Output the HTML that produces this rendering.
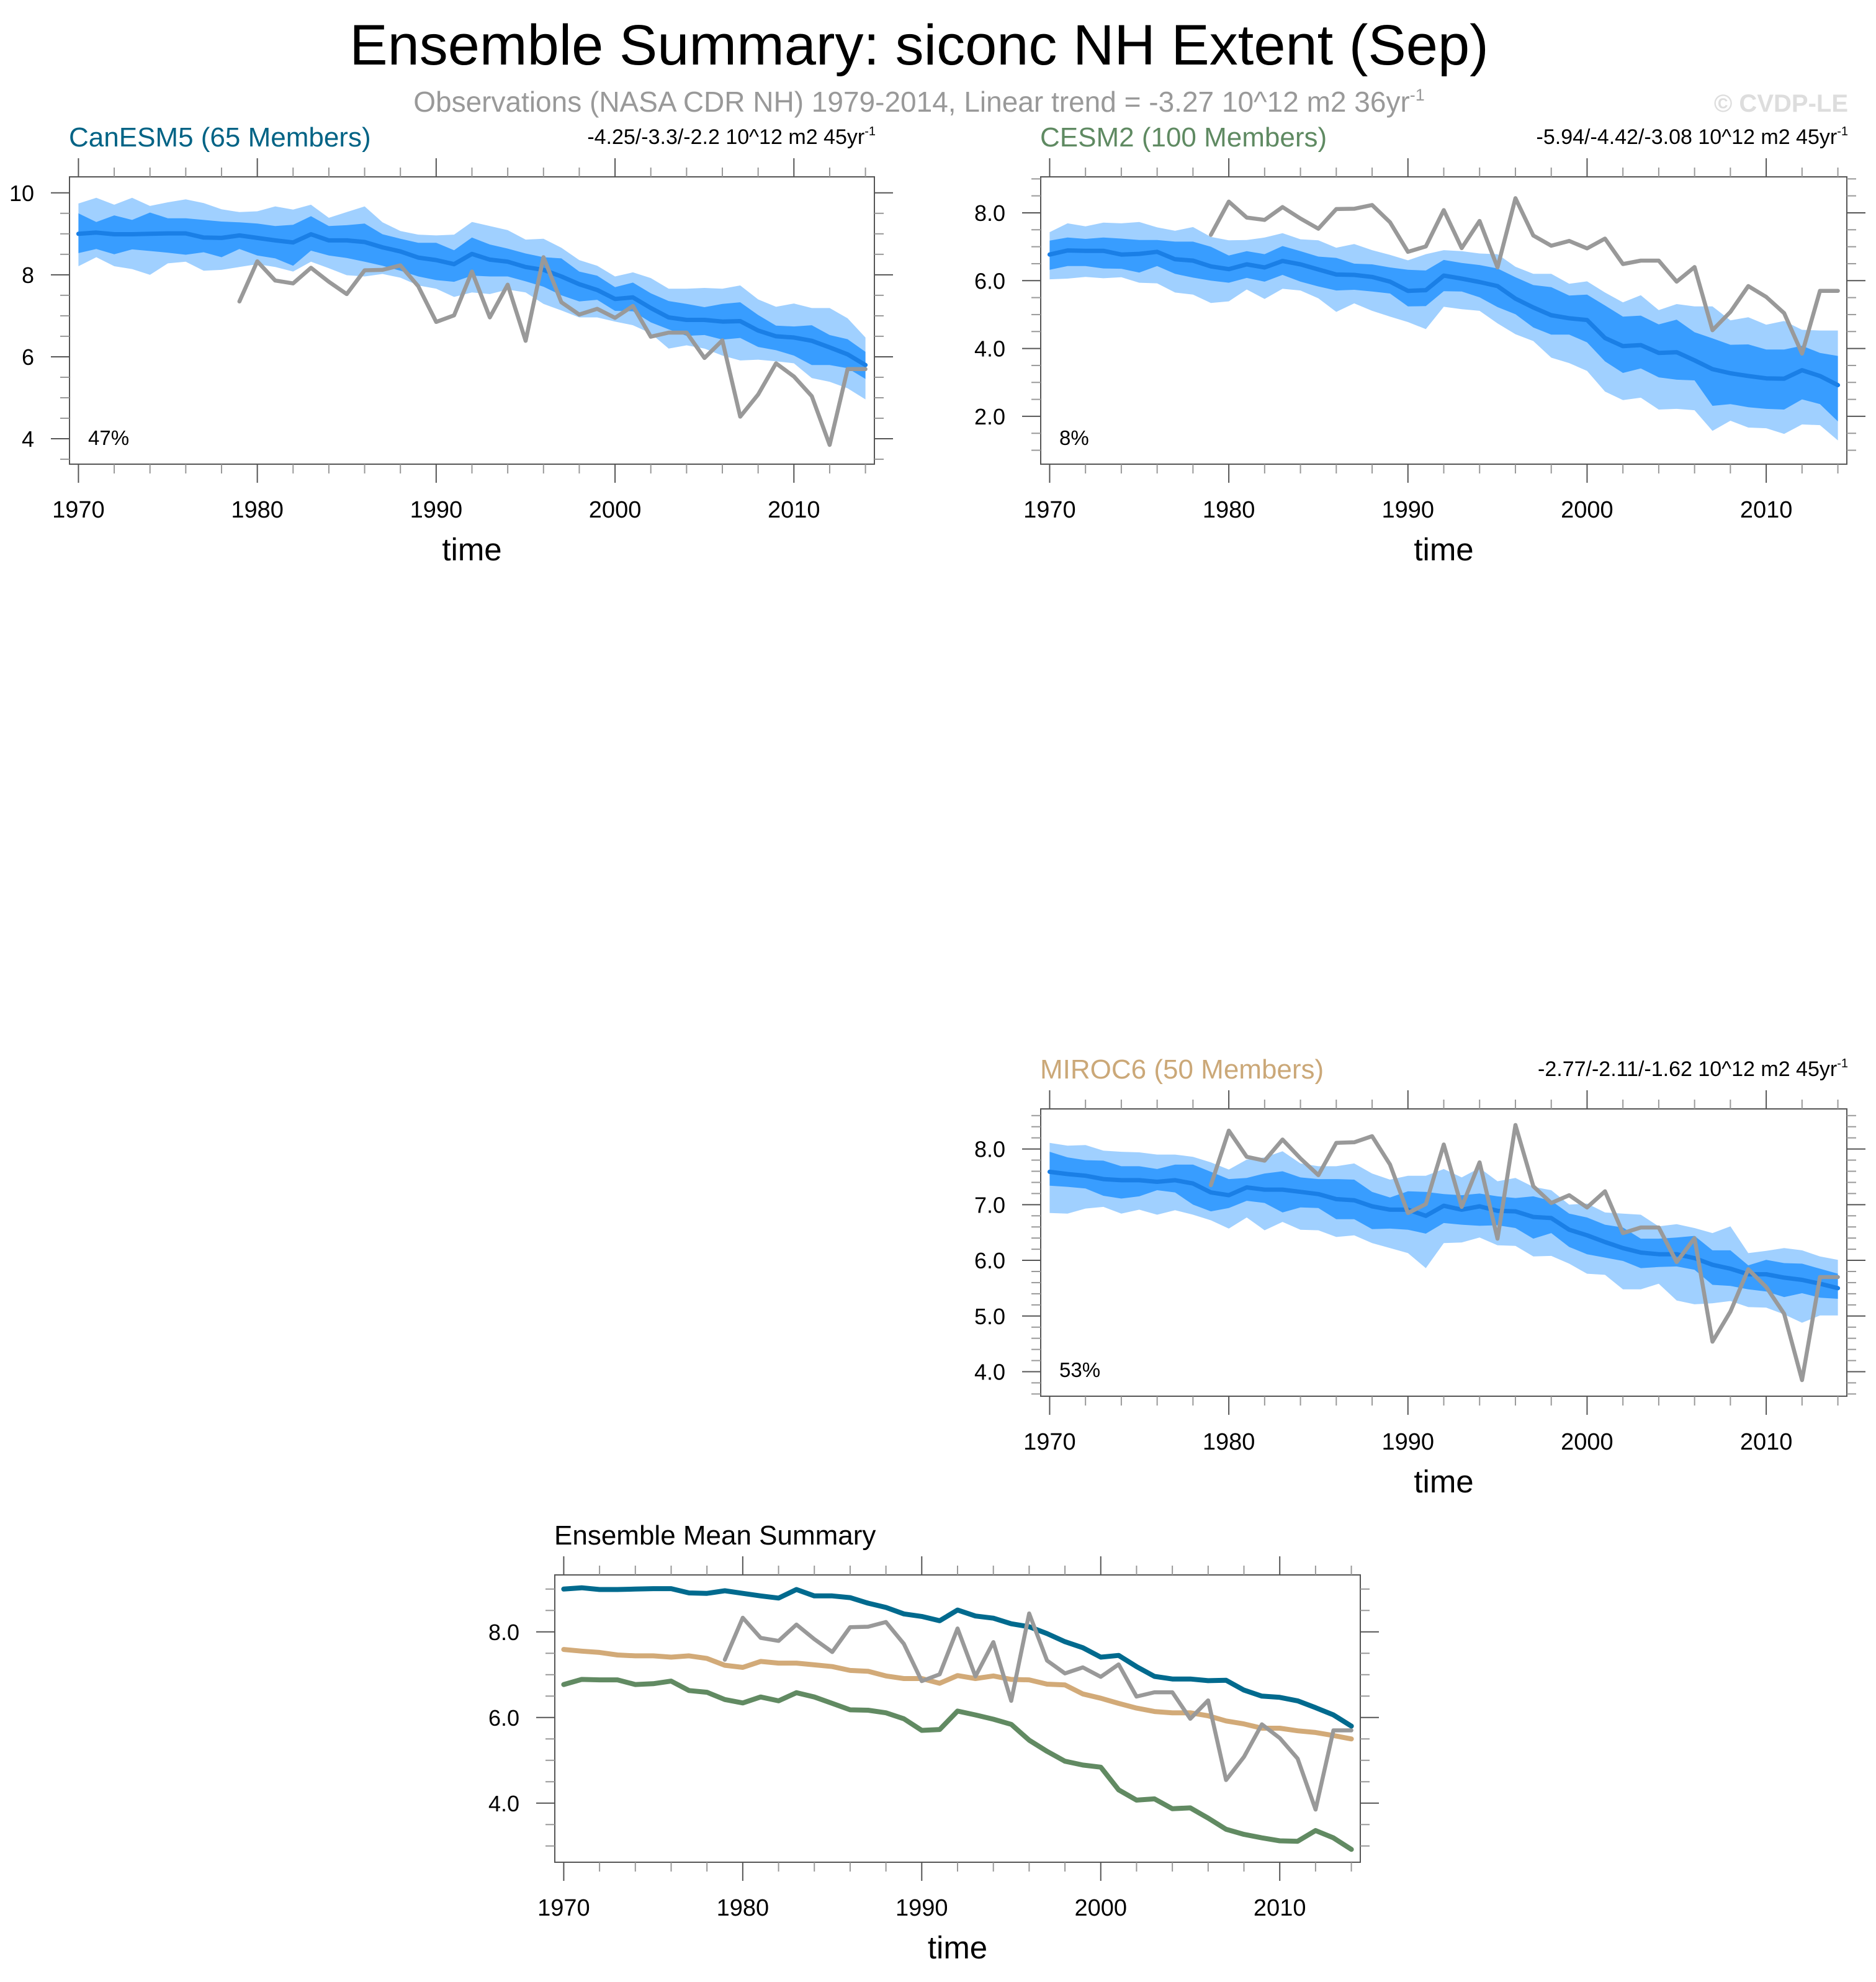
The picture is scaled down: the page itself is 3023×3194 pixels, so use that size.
<!DOCTYPE html>
<html>
<head>
<meta charset="utf-8">
<style>
html,body{margin:0;padding:0;background:#fff;}
svg{display:block;}
text{font-family:"Liberation Sans",Arial,sans-serif;}
</style>
</head>
<body>
<svg id="root" xmlns="http://www.w3.org/2000/svg" width="3023" height="3194" viewBox="0 0 3023 3194">
<rect x="0" y="0" width="3023" height="3194" fill="#fff"/>
<text x="1481" y="104" font-size="92" text-anchor="middle" fill="#000">Ensemble Summary: siconc NH Extent (Sep)</text>
<text x="1481" y="180" font-size="46" text-anchor="middle" fill="#999">Observations (NASA CDR NH) 1979-2014, Linear trend = -3.27 10^12 m2 36yr<tspan dy="-18" font-size="27">-1</tspan></text>
<text x="2978" y="180" font-size="40" font-weight="bold" text-anchor="end" fill="#ddd">© CVDP-LE</text>
</svg>
<script>
// ---------- data ----------
const years = [1970,1971,1972,1973,1974,1975,1976,1977,1978,1979,1980,1981,1982,1983,1984,1985,1986,1987,1988,1989,1990,1991,1992,1993,1994,1995,1996,1997,1998,1999,2000,2001,2002,2003,2004,2005,2006,2007,2008,2009,2010,2011,2012,2013,2014];
const obsYears = [1979,1980,1981,1982,1983,1984,1985,1986,1987,1988,1989,1990,1991,1992,1993,1994,1995,1996,1997,1998,1999,2000,2001,2002,2003,2004,2005,2006,2007,2008,2009,2010,2011,2012,2013,2014];
const obsValues = [7.35,8.33,7.86,7.79,8.17,7.83,7.53,8.11,8.12,8.23,7.72,6.85,7.01,8.08,6.96,7.76,6.39,8.43,7.33,7.03,7.17,6.95,7.24,6.49,6.59,6.59,5.97,6.40,4.54,5.08,5.84,5.52,5.04,3.85,5.70,5.70];

const canMean = [9.00,9.03,8.99,8.99,9.00,9.01,9.01,8.91,8.90,8.96,8.90,8.84,8.79,8.99,8.84,8.84,8.80,8.67,8.57,8.42,8.36,8.26,8.51,8.37,8.32,8.19,8.12,7.96,7.77,7.63,7.41,7.45,7.19,6.96,6.90,6.90,6.86,6.87,6.64,6.50,6.47,6.39,6.23,6.06,5.80];
const canOuterHi = [9.74,9.88,9.71,9.88,9.68,9.77,9.84,9.75,9.60,9.53,9.55,9.67,9.59,9.71,9.39,9.53,9.67,9.28,9.07,8.98,8.96,8.98,9.29,9.19,9.09,8.86,8.88,8.66,8.36,8.22,7.96,8.06,7.92,7.66,7.66,7.68,7.66,7.74,7.40,7.22,7.30,7.19,7.19,6.94,6.47];
const canOuterLo = [8.21,8.43,8.21,8.14,8.00,8.28,8.32,8.10,8.12,8.19,8.26,8.19,8.08,8.32,8.16,7.99,7.96,8.02,7.93,7.74,7.66,7.46,7.57,7.53,7.64,7.57,7.29,7.13,6.96,6.96,6.86,6.77,6.57,6.20,6.28,6.20,6.03,5.91,5.93,5.89,5.84,5.48,5.39,5.23,4.96];
const canInnerHi = [9.50,9.29,9.45,9.34,9.52,9.38,9.38,9.34,9.30,9.28,9.25,9.19,9.22,9.43,9.19,9.21,9.25,8.99,8.88,8.78,8.78,8.60,8.91,8.74,8.64,8.52,8.43,8.40,8.08,7.98,7.70,7.81,7.55,7.36,7.29,7.21,7.29,7.33,7.02,6.76,6.74,6.77,6.53,6.43,6.12];
const canInnerLo = [8.53,8.63,8.50,8.62,8.58,8.54,8.49,8.55,8.43,8.63,8.47,8.40,8.22,8.59,8.47,8.41,8.32,8.22,8.10,7.96,7.87,7.83,7.98,7.96,7.96,7.84,7.71,7.50,7.35,7.39,7.12,7.11,6.84,6.67,6.51,6.53,6.42,6.46,6.24,6.16,6.03,5.80,5.80,5.72,5.46];

const cesmMean = [6.77,6.89,6.88,6.88,6.77,6.79,6.85,6.63,6.59,6.42,6.34,6.48,6.39,6.58,6.48,6.33,6.18,6.17,6.11,5.97,5.70,5.72,6.15,6.06,5.96,5.84,5.47,5.21,4.98,4.89,4.84,4.31,4.07,4.10,3.87,3.89,3.65,3.39,3.27,3.19,3.12,3.11,3.36,3.19,2.92];
const cesmOuterHi = [7.43,7.69,7.60,7.71,7.69,7.73,7.57,7.47,7.58,7.29,7.19,7.20,7.27,7.40,7.22,7.19,6.97,7.08,6.90,6.76,6.60,6.78,6.90,6.87,6.80,6.78,6.41,6.20,6.20,5.91,5.98,5.65,5.36,5.57,5.13,5.31,5.24,5.24,4.83,4.92,4.70,4.81,4.55,4.53,4.53];
const cesmOuterLo = [6.04,6.06,6.11,6.07,6.10,5.94,5.92,5.65,5.59,5.34,5.39,5.74,5.46,5.76,5.71,5.48,5.08,5.33,5.11,4.94,4.78,4.57,5.23,5.16,5.11,4.74,4.42,4.22,3.73,3.57,3.34,2.73,2.48,2.55,2.20,2.22,2.18,1.57,1.87,1.67,1.65,1.48,1.76,1.74,1.29];
const cesmInnerHi = [7.18,7.27,7.23,7.27,7.24,7.20,7.20,7.15,7.15,7.00,6.74,6.87,6.78,7.02,6.87,6.71,6.67,6.50,6.48,6.39,6.32,6.30,6.61,6.52,6.46,6.36,6.10,5.87,5.81,5.56,5.59,5.27,4.94,4.97,4.71,4.85,4.48,4.30,4.11,4.12,3.97,3.97,4.08,3.87,3.78];
const cesmInnerLo = [6.32,6.43,6.43,6.36,6.35,6.24,6.43,6.20,6.09,6.00,5.94,6.08,5.97,6.17,5.97,5.83,5.71,5.73,5.68,5.62,5.24,5.25,5.69,5.68,5.51,5.22,5.01,4.62,4.41,4.41,4.18,3.62,3.28,3.41,3.15,3.08,3.06,2.31,2.36,2.27,2.22,2.20,2.50,2.36,1.85];

const mirocMean = [7.59,7.55,7.52,7.46,7.44,7.44,7.41,7.44,7.38,7.22,7.17,7.31,7.27,7.27,7.23,7.19,7.10,7.08,6.97,6.91,6.91,6.80,6.98,6.91,6.97,6.89,6.88,6.78,6.76,6.55,6.45,6.33,6.22,6.14,6.11,6.11,6.04,5.92,5.85,5.75,5.75,5.69,5.65,5.58,5.50];
const mirocOuterHi = [8.11,8.06,8.07,7.97,7.95,7.94,7.90,7.90,7.86,7.76,7.63,7.81,7.85,7.96,7.74,7.69,7.69,7.74,7.56,7.45,7.52,7.52,7.64,7.49,7.66,7.42,7.48,7.32,7.26,7.00,7.02,6.86,6.84,6.82,6.61,6.65,6.58,6.49,6.61,6.13,6.17,6.22,6.18,6.07,6.01];
const mirocOuterLo = [6.85,6.84,6.93,6.96,6.84,6.91,6.82,6.90,6.82,6.72,6.57,6.77,6.54,6.69,6.55,6.54,6.42,6.45,6.31,6.22,6.13,5.86,6.31,6.32,6.41,6.27,6.26,6.07,6.08,5.94,5.76,5.74,5.48,5.48,5.58,5.28,5.21,5.23,5.27,5.16,5.15,5.03,4.88,5.01,5.01];
const mirocInnerHi = [7.95,7.85,7.80,7.79,7.69,7.69,7.64,7.72,7.72,7.59,7.46,7.48,7.56,7.60,7.49,7.46,7.46,7.45,7.23,7.13,7.24,7.23,7.19,7.17,7.20,7.15,7.12,7.15,7.07,6.84,6.77,6.64,6.59,6.39,6.39,6.41,6.44,6.18,6.18,5.91,6.01,5.95,5.94,5.85,5.76];
const mirocInnerLo = [7.34,7.32,7.29,7.16,7.11,7.15,7.26,7.22,7.00,6.88,6.94,7.07,7.03,6.86,6.95,6.94,6.74,6.74,6.56,6.57,6.55,6.48,6.67,6.64,6.62,6.63,6.58,6.39,6.49,6.24,6.11,6.05,5.99,5.86,5.88,5.89,5.83,5.56,5.54,5.48,5.44,5.34,5.41,5.33,5.31];

const canTicks = [4,6,8,10];
const canTickLabels = ["4","6","8","10"];
const cesmTicks = [2,4,6,8];
const cesmTickLabels = ["2.0","4.0","6.0","8.0"];
const mirocTicks = [4,5,6,7,8];
const mirocTickLabels = ["4.0","5.0","6.0","7.0","8.0"];
const meanTicks = [4,6,8];
const meanTickLabels = ["4.0","6.0","8.0"];
const xTicks = [1970,1980,1990,2000,2010];
const xTickLabels = ["1970","1980","1990","2000","2010"];

// ---------- drawing ----------
const NS = "http://www.w3.org/2000/svg";
const root = document.getElementById("root");
function mk(tag, attrs, parent){
  const e = document.createElementNS(NS, tag);
  for (const k in attrs) e.setAttribute(k, attrs[k]);
  (parent||root).appendChild(e);
  return e;
}
const FONT = '"Liberation Sans",Arial,sans-serif';

function drawPanel(cfg){
  const g = mk("g", {});
  
  
  const X0 = 1969.5, X1 = 2014.5;
  const xs = v => cfg.x0 + (v - X0) / (X1 - X0) * (cfg.x1 - cfg.x0);
  const ys = v => cfg.y1 - (v - cfg.ymin) / (cfg.ymax - cfg.ymin) * (cfg.y1 - cfg.y0);

  function band(hi, lo, color, nm){
    let pts = [];
    for (let i = 0; i < years.length; i++) pts.push(xs(years[i]).toFixed(1) + "," + ys(hi[i]).toFixed(1));
    for (let i = years.length - 1; i >= 0; i--) pts.push(xs(years[i]).toFixed(1) + "," + ys(lo[i]).toFixed(1));
    const p = mk("polygon", {points: pts.join(" "), fill: color, stroke: "none"}, g);
    
    
  }
  function line(xv, yv, color, w, nm){
    const pts = xv.map((v, i) => xs(v).toFixed(1) + "," + ys(yv[i]).toFixed(1)).join(" ");
    const l = mk("polyline", {points: pts, fill: "none", stroke: color, "stroke-width": w, "stroke-linejoin": "round", "stroke-linecap": "round"}, g);
    
    
  }

  if (cfg.bands){
    band(cfg.bands.oh, cfg.bands.ol, "#a0d0ff", "outer-spread-band");
    band(cfg.bands.ih, cfg.bands.il, "#389dff", "inner-spread-band");
    line(years, cfg.bands.mean, "#1a7fe6", 7, "ensemble-mean-line");
  }
  if (cfg.means){
    cfg.means.forEach(m => line(years, m.vals, m.color, 8, m.nm));
  }
  line(obsYears, obsValues, "#999999", 6.5, "observations-line");

  const fr = mk("rect", {x: cfg.x0, y: cfg.y0, width: cfg.x1 - cfg.x0, height: cfg.y1 - cfg.y0, fill: "none", stroke: "#555", "stroke-width": 2}, g);
  
  

  for (let yr = 1970; yr <= 2014; yr += 2){
    const major = (yr % 10 === 0);
    const len = major ? 30 : 15;
    const col = major ? "#555" : "#999";
    const x = xs(yr);
    mk("line", {x1: x, x2: x, y1: cfg.y0 - len, y2: cfg.y0, stroke: col, "stroke-width": 2}, g);
    mk("line", {x1: x, x2: x, y1: cfg.y1, y2: cfg.y1 + len, stroke: col, "stroke-width": 2}, g);
  }
  xTicks.forEach((v, i) => {
    const t = mk("text", {x: xs(v), y: cfg.y1 + 86, "font-size": 38, "text-anchor": "middle", fill: "#000", "font-family": FONT}, g);
    t.textContent = xTickLabels[i];
    
    
  });
  const st = cfg.minor;
  for (let k = Math.ceil(cfg.ymin / st - 1e-6); k * st <= cfg.ymax + 1e-6; k++){
    const v = k * st;
    const major = cfg.ticks.some(t => Math.abs(t - v) < 1e-6);
    const len = major ? 30 : 15;
    const col = major ? "#555" : "#999";
    const y = ys(v);
    mk("line", {x1: cfg.x0 - len, x2: cfg.x0, y1: y, y2: y, stroke: col, "stroke-width": 2}, g);
    mk("line", {x1: cfg.x1, x2: cfg.x1 + len, y1: y, y2: y, stroke: col, "stroke-width": 2}, g);
  }
  cfg.ticks.forEach((v, i) => {
    const t = mk("text", {x: cfg.x0 - 57, y: ys(v) + 13, "font-size": 36, "text-anchor": "end", fill: "#000", "font-family": FONT}, g);
    t.textContent = cfg.tickLabels[i];
    
    
  });
  const tt = mk("text", {x: (cfg.x0 + cfg.x1) / 2, y: cfg.y1 + 155, "font-size": 51, "text-anchor": "middle", fill: "#000", "font-family": FONT}, g);
  tt.textContent = "time";
  
  
  const pt = mk("text", {x: cfg.x0 - 1, y: cfg.y0 - 49, "font-size": 44, fill: cfg.titleColor, "font-family": FONT}, g);
  pt.textContent = cfg.title;
  
  
  if (cfg.trend){
    const tr = mk("text", {x: cfg.x1 + 2, y: cfg.y0 - 53, "font-size": 34, "text-anchor": "end", fill: "#000", "font-family": FONT}, g);
    tr.textContent = cfg.trend;
    const sup = mk("tspan", {dy: -14, "font-size": 20}, tr);
    sup.textContent = "-1";
    
    
  }
  if (cfg.pct){
    const pc = mk("text", {x: cfg.x0 + 30, y: cfg.y1 - 31, "font-size": 33, fill: "#000", "font-family": FONT}, g);
    pc.textContent = cfg.pct;
    
    
  }
}

drawPanel({name: "canesm5", x0: 112, x1: 1409, y0: 285, y1: 748, ymin: 3.38, ymax: 10.39,
  ticks: canTicks, tickLabels: canTickLabels, minor: 0.5,
  title: "CanESM5 (65 Members)", titleColor: "#006385",
  trend: "-4.25/-3.3/-2.2 10^12 m2 45yr", pct: "47%",
  bands: {oh: canOuterHi, ol: canOuterLo, ih: canInnerHi, il: canInnerLo, mean: canMean}});

drawPanel({name: "cesm2", x0: 1677, x1: 2976, y0: 285, y1: 748, ymin: 0.59, ymax: 9.06,
  ticks: cesmTicks, tickLabels: cesmTickLabels, minor: 0.5,
  title: "CESM2 (100 Members)", titleColor: "#5f8a62",
  trend: "-5.94/-4.42/-3.08 10^12 m2 45yr", pct: "8%",
  bands: {oh: cesmOuterHi, ol: cesmOuterLo, ih: cesmInnerHi, il: cesmInnerLo, mean: cesmMean}});

drawPanel({name: "miroc6", x0: 1677, x1: 2976, y0: 1787, y1: 2250, ymin: 3.56, ymax: 8.72,
  ticks: mirocTicks, tickLabels: mirocTickLabels, minor: 0.2,
  title: "MIROC6 (50 Members)", titleColor: "#cba878",
  trend: "-2.77/-2.11/-1.62 10^12 m2 45yr", pct: "53%",
  bands: {oh: mirocOuterHi, ol: mirocOuterLo, ih: mirocInnerHi, il: mirocInnerLo, mean: mirocMean}});

drawPanel({name: "ensemble-mean-summary", x0: 894, x1: 2192, y0: 2538, y1: 3001, ymin: 2.62, ymax: 9.33,
  ticks: meanTicks, tickLabels: meanTickLabels, minor: 0.5,
  title: "Ensemble Mean Summary", titleColor: "#000",
  means: [
    {vals: mirocMean, color: "#d2aa78", nm: "miroc6-mean-line"},
    {vals: cesmMean, color: "#618a62", nm: "cesm2-mean-line"},
    {vals: canMean, color: "#006a8e", nm: "canesm5-mean-line"}
  ]});
</script>
</body>
</html>
